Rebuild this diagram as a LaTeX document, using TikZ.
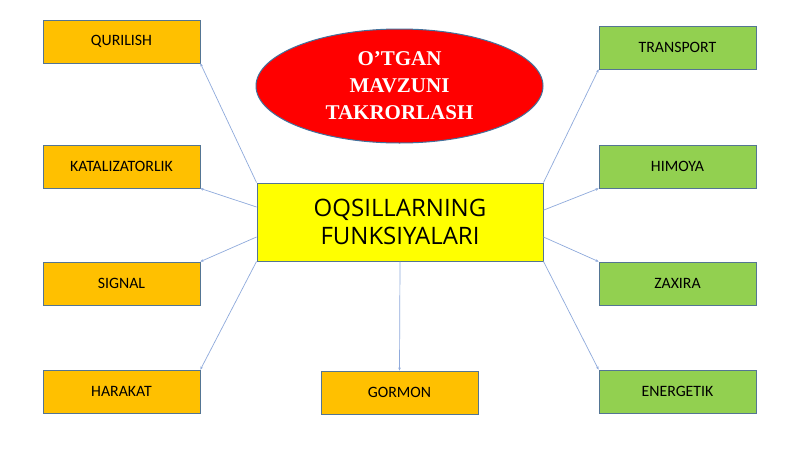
\documentclass[tikz,border=0pt]{standalone}
\usepackage{fontspec}
\setmainfont{Carlito}
\newfontfamily\cenfont{Open Sans}
\newfontfamily\elfont{Liberation Serif}
\usetikzlibrary{arrows.meta,calc,shapes.geometric}
\definecolor{boxorange}{HTML}{FFC000}
\definecolor{boxgreen}{HTML}{92D050}
\definecolor{boxyellow}{HTML}{FFFF00}
\definecolor{boxred}{HTML}{FF0000}
\definecolor{edgeblue}{HTML}{41719C}
\definecolor{linkblue}{HTML}{8FAADC}
\tikzset{
  leaf/.style={draw=edgeblue!70!gray, line width=0.9pt, inner sep=0pt,
    minimum width=157pt, minimum height=43pt, font=\fontsize{15.8}{18}\selectfont},
  leafo/.style={leaf, fill=boxorange},
  leafg/.style={leaf, fill=boxgreen},
  link/.style={draw=linkblue, line width=0.7pt, -{Stealth[length=3pt,width=2.6pt]}}
}
\begin{document}
\begin{tikzpicture}[x=1pt,y=-1pt]
\useasboundingbox (0,0) rectangle (800,450);
\fill[white] (0,0) rectangle (800,450);
% ellipse
\node[ellipse, draw=edgeblue, line width=1pt, fill=boxred, minimum width=287pt, minimum height=114pt, inner sep=0pt,
  align=center, text=white, font=\elfont\bfseries\fontsize{21}{27}\selectfont] (title) at (399.5,86)
  {O’TGAN\\MAVZUNI\\TAKRORLASH};
% central
\node[draw=edgeblue!70!gray, line width=1pt, fill=boxyellow, minimum width=286pt, minimum height=78pt, inner sep=0pt,
  align=center, font=\cenfont\fontsize{24}{28}\selectfont] (c) at (400,222) {OQSILLARNING\\FUNKSIYALARI};
% left
\node[leafo] (qur) at (121.5,41.5) {QURILISH};
\node[leafo] (kat) at (121.5,166.5) {KATALIZATORLIK};
\node[leafo] (sig) at (121.5,283.5) {SIGNAL};
\node[leafo] (har) at (121.5,391.5) {HARAKAT};
% bottom
\node[leafo] (gor) at (399.5,392.5) {GORMON};
% right
\node[leafg] (tra) at (677.5,47.5) {TRANSPORT};
\node[leafg] (him) at (677.5,166.5) {HIMOYA};
\node[leafg] (zax) at (677.5,283.5) {ZAXIRA};
\node[leafg] (ene) at (677.5,391.5) {ENERGETIK};
% links
\draw[link] (c.north west) -- (qur.south east);
\draw[link] ($(c.north west)!0.31!(c.south west)$) -- (kat.south east);
\draw[link] ($(c.north west)!0.69!(c.south west)$) -- (sig.north east);
\draw[link] (c.south west) -- (har.north east);
\draw[link] (c.south) -- (gor.north);
\draw[link] (c.north east) -- (tra.south west);
\draw[link] ($(c.north east)!0.35!(c.south east)$) -- (him.south west);
\draw[link] ($(c.north east)!0.69!(c.south east)$) -- (zax.north west);
\draw[link] (c.south east) -- (ene.north west);
\end{tikzpicture}
\end{document}
